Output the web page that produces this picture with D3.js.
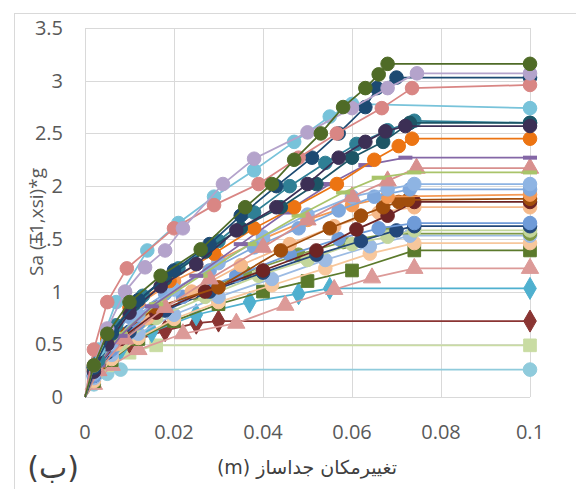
<!DOCTYPE html>
<html>
<head>
<meta charset="utf-8">
<script src="https://d3js.org/d3.v7.min.js"></script>
<style>
  body { margin: 0px; padding: 0px; background: #ffffff; }
  .tick_lab { font-family: "Open Sans", sans-serif; font-size: 20px; fill: #595959; }
</style>
</head>
<body>
<div id="svg_cont"></div>
<script>

// tick values
var x_ticks = [0, 0.02, 0.04, 0.06, 0.08, 0.1];
var y_ticks = [0, 0.5, 1, 1.5, 2, 2.5, 3, 3.5];

// IDA curves, [displacement (m), Sa*g]
var s_lightblue_low = [[0,0],[0.002,0.12],[0.005,0.22],[0.008,0.26],[0.1,0.26]];
var s_lightgreen_sq = [[0,0],[0.002,0.15],[0.005,0.3],[0.01,0.42],[0.016,0.49],[0.1,0.49]];
var s_darkred_dia = [[0,0],[0.002,0.2],[0.005,0.38],[0.01,0.52],[0.018,0.63],[0.025,0.7],[0.03,0.72],[0.1,0.72]];
var s_teal_dia = [[0,0],[0.003,0.25],[0.008,0.45],[0.015,0.62],[0.025,0.78],[0.037,0.9],[0.048,0.98],[0.055,1.03],[0.1,1.03]];
var s_pink_tri_low = [[0,0],[0.002,0.12],[0.006,0.3],[0.012,0.45],[0.022,0.6],[0.034,0.7],[0.045,0.87],[0.056,1.02],[0.0645,1.13],[0.074,1.22],[0.1,1.22]];
var s_green_sq = [[0,0],[0.002,0.15],[0.006,0.35],[0.012,0.55],[0.02,0.72],[0.03,0.88],[0.04,1.0],[0.05,1.1],[0.06,1.2],[0.074,1.39],[0.1,1.39]];
var s_tan = [[0,0],[0.002,0.15],[0.006,0.36],[0.012,0.56],[0.02,0.74],[0.03,0.9],[0.042,1.06],[0.054,1.22],[0.064,1.36],[0.074,1.46],[0.1,1.46]];
var s_skyblue2 = [[0,0],[0.002,0.18],[0.006,0.4],[0.012,0.6],[0.02,0.78],[0.03,0.95],[0.042,1.12],[0.054,1.3],[0.064,1.43],[0.073,1.53],[0.1,1.53]];
var s_olive = [[0,0],[0.003,0.28],[0.008,0.52],[0.015,0.75],[0.025,0.98],[0.036,1.18],[0.048,1.35],[0.058,1.47],[0.068,1.55],[0.1,1.55]];
var s_lightgreen = [[0,0],[0.003,0.25],[0.008,0.5],[0.016,0.75],[0.027,0.95],[0.039,1.15],[0.05,1.3],[0.06,1.45],[0.068,1.52],[0.074,1.58],[0.1,1.58]];
var s_navy = [[0,0],[0.002,0.2],[0.005,0.42],[0.01,0.62],[0.018,0.82],[0.028,1.0],[0.04,1.18],[0.052,1.35],[0.062,1.48],[0.07,1.58],[0.074,1.62],[0.1,1.62]];
var s_blue = [[0,0],[0.002,0.2],[0.006,0.45],[0.012,0.7],[0.022,0.95],[0.034,1.15],[0.046,1.35],[0.057,1.5],[0.066,1.6],[0.074,1.65],[0.1,1.65]];
var s_peach = [[0,0],[0.002,0.25],[0.007,0.5],[0.014,0.75],[0.024,1.0],[0.035,1.25],[0.046,1.45],[0.056,1.62],[0.066,1.75],[0.074,1.8],[0.1,1.8]];
var s_darkred = [[0,0],[0.003,0.3],[0.008,0.55],[0.016,0.8],[0.027,1.0],[0.04,1.2],[0.052,1.39],[0.061,1.59],[0.068,1.72],[0.074,1.85],[0.1,1.85]];
var s_brown = [[0,0],[0.003,0.3],[0.008,0.6],[0.016,0.85],[0.03,1.04],[0.044,1.39],[0.055,1.6],[0.062,1.72],[0.067,1.8],[0.0705,1.85],[0.0726,1.87],[0.1,1.88]];
var s_orange_lt = [[0,0],[0.002,0.3],[0.006,0.6],[0.012,0.88],[0.02,1.1],[0.03,1.3],[0.04,1.5],[0.05,1.68],[0.06,1.82],[0.068,1.9],[0.1,1.92]];
var s_steel = [[0,0],[0.002,0.28],[0.005,0.52],[0.01,0.76],[0.018,0.98],[0.028,1.2],[0.038,1.42],[0.048,1.6],[0.057,1.77],[0.065,1.9],[0.073,1.97],[0.1,1.97]];
var s_skyblue = [[0,0],[0.002,0.22],[0.006,0.5],[0.012,0.78],[0.02,1.02],[0.03,1.27],[0.04,1.52],[0.05,1.73],[0.06,1.9],[0.068,1.97],[0.074,2.02],[0.1,2.02]];
var s_pink_tri_hi = [[0,0],[0.003,0.25],[0.009,0.55],[0.018,0.85],[0.028,1.12],[0.04,1.42],[0.05,1.68],[0.06,1.9],[0.068,2.05],[0.0745,2.17],[0.1,2.17]];
var s_olive_line = [[0,0],[0.003,0.3],[0.008,0.6],[0.016,0.88],[0.026,1.15],[0.037,1.45],[0.048,1.72],[0.058,1.94],[0.066,2.08],[0.074,2.13],[0.1,2.13]];
var s_purple = [[0,0],[0.003,0.3],[0.008,0.58],[0.015,0.86],[0.025,1.15],[0.035,1.45],[0.045,1.75],[0.055,2.02],[0.063,2.2],[0.072,2.27],[0.1,2.27]];
var s_orange = [[0,0],[0.002,0.26],[0.005,0.55],[0.01,0.85],[0.019,1.1],[0.029,1.36],[0.038,1.6],[0.047,1.8],[0.0566,2.02],[0.065,2.25],[0.0705,2.38],[0.0735,2.45],[0.1,2.45]];
var s_teal = [[0,0],[0.003,0.35],[0.007,0.68],[0.013,0.96],[0.021,1.22],[0.03,1.48],[0.038,1.75],[0.046,2.0],[0.054,2.22],[0.061,2.4],[0.068,2.53],[0.074,2.62],[0.1,2.6]];
var s_darkteal = [[0,0],[0.002,0.28],[0.006,0.6],[0.011,0.88],[0.018,1.12],[0.027,1.38],[0.035,1.6],[0.044,1.8],[0.052,2.02],[0.06,2.27],[0.067,2.42],[0.073,2.6],[0.1,2.6]];
var s_navypurple = [[0,0],[0.002,0.24],[0.005,0.5],[0.01,0.8],[0.017,1.05],[0.025,1.26],[0.034,1.58],[0.043,1.8],[0.05,2.02],[0.057,2.27],[0.063,2.42],[0.0675,2.52],[0.072,2.57],[0.1,2.57]];
var s_lightblue = [[0,0],[0.003,0.45],[0.007,0.9],[0.014,1.39],[0.021,1.65],[0.029,1.9],[0.038,2.15],[0.047,2.42],[0.055,2.66],[0.06,2.78],[0.1,2.74]];
var s_darkblue = [[0,0],[0.002,0.28],[0.006,0.62],[0.012,0.92],[0.02,1.2],[0.028,1.45],[0.035,1.72],[0.043,2.0],[0.051,2.27],[0.057,2.5],[0.063,2.75],[0.0656,2.93],[0.07,3.03],[0.1,3.03]];
var s_pink = [[0,0],[0.002,0.45],[0.005,0.9],[0.0094,1.22],[0.02,1.6],[0.029,1.82],[0.039,2.02],[0.048,2.27],[0.0566,2.5],[0.0667,2.74],[0.0735,2.93],[0.1,2.96]];
var s_lavender = [[0,0],[0.002,0.3],[0.005,0.65],[0.009,1.0],[0.0135,1.23],[0.018,1.39],[0.022,1.6],[0.031,2.02],[0.038,2.26],[0.05,2.51],[0.06,2.74],[0.068,2.93],[0.0746,3.07],[0.1,3.07]];
var s_darkgreen = [[0,0],[0.002,0.3],[0.005,0.6],[0.01,0.9],[0.017,1.15],[0.026,1.4],[0.036,1.8],[0.042,2.02],[0.047,2.25],[0.053,2.5],[0.058,2.75],[0.063,2.93],[0.066,3.06],[0.068,3.16],[0.1,3.16]];

// drawing order, colour and marker of each curve
var series_list = [
  {d: s_lightblue_low, c: '#8fcbdc', m: 'circle'},
  {d: s_lightgreen_sq, c: '#c9dca3', m: 'square'},
  {d: s_darkred_dia, c: '#8a3533', m: 'diamond'},
  {d: s_teal_dia, c: '#4fb0cf', m: 'diamond'},
  {d: s_pink_tri_low, c: '#dc9a98', m: 'triangle'},
  {d: s_green_sq, c: '#5b7a2c', m: 'square'},
  {d: s_tan, c: '#f7c79c', m: 'circle'},
  {d: s_skyblue2, c: '#9cbbe3', m: 'circle'},
  {d: s_olive, c: '#7f9a45', m: 'circle'},
  {d: s_lightgreen, c: '#c3d69b', m: 'circle'},
  {d: s_navy, c: '#23487a', m: 'circle'},
  {d: s_blue, c: '#6f9bd8', m: 'circle'},
  {d: s_peach, c: '#f5b98a', m: 'circle'},
  {d: s_darkred, c: '#6e2424', m: 'circle'},
  {d: s_brown, c: '#a14e0c', m: 'circle'},
  {d: s_orange_lt, c: '#f59a55', m: 'circle'},
  {d: s_steel, c: '#7fa8dd', m: 'circle'},
  {d: s_skyblue, c: '#8eb4e3', m: 'circle'},
  {d: s_pink_tri_hi, c: '#d8908e', m: 'triangle'},
  {d: s_olive_line, c: '#a9c46a', m: 'dash'},
  {d: s_purple, c: '#8467a6', m: 'dash'},
  {d: s_orange, c: '#ec7412', m: 'circle'},
  {d: s_teal, c: '#2f7f95', m: 'circle'},
  {d: s_darkteal, c: '#1d5566', m: 'circle'},
  {d: s_navypurple, c: '#3c2f55', m: 'circle'},
  {d: s_lightblue, c: '#78c3da', m: 'circle'},
  {d: s_darkblue, c: '#1c4a72', m: 'circle'},
  {d: s_pink, c: '#d98684', m: 'circle'},
  {d: s_lavender, c: '#b4a3cb', m: 'circle'},
  {d: s_darkgreen, c: '#4f6b27', m: 'circle'}
];

var w = 576, h = 489;
var margin = {left: 85, right: 46, top: 28, bottom: 92};

var svg_main = d3.select('div#svg_cont')
  .append('svg')
  .attr('width', w)
  .attr('height', h);

// chart area frame (cropped on the right and bottom)
svg_main.append('rect')
  .attr('x', 14.5).attr('y', 13.5)
  .attr('width', 700).attr('height', 600)
  .attr('fill', 'none')
  .attr('stroke', '#d9d9d9');

var x = d3.scaleLinear().domain([0, 0.1]).range([margin.left, w - margin.right]);
var y = d3.scaleLinear().domain([0, 3.5]).range([h - margin.bottom, margin.top]);

var grid = svg_main.append('g');
grid.selectAll('line.hg').data(y_ticks).enter().append('line')
  .attr('x1', x(0)).attr('x2', x(0.1))
  .attr('y1', d => Math.round(y(d)) + 0.5).attr('y2', d => Math.round(y(d)) + 0.5)
  .attr('stroke', '#d9d9d9').attr('stroke-width', 1);
grid.selectAll('line.vg').data(x_ticks).enter().append('line')
  .attr('x1', d => Math.round(x(d)) + 0.5).attr('x2', d => Math.round(x(d)) + 0.5)
  .attr('y1', y(0)).attr('y2', y(3.5))
  .attr('stroke', '#d9d9d9').attr('stroke-width', 1);

// tick labels
svg_main.selectAll('text.ylab').data(y_ticks).enter().append('text')
  .attr('class', 'tick_lab')
  .attr('x', 63).attr('y', d => y(d))
  .attr('dy', '0.35em')
  .attr('text-anchor', 'end')
  .text(d => d3.format('')(d));

svg_main.selectAll('text.xlab').data(x_ticks).enter().append('text')
  .attr('class', 'tick_lab')
  .attr('x', d => x(d)).attr('y', 439)
  .attr('text-anchor', 'middle')
  .text(d => d3.format('')(d));

// curves
var line_gen = d3.line().x(d => x(d[0])).y(d => y(d[1]));

var sym = {
  circle: d3.symbol().type(d3.symbolCircle).size(145),
  square: d3.symbol().type(d3.symbolSquare).size(160),
  diamond: d3.symbol().type(d3.symbolDiamond).size(140),
  triangle: d3.symbol().type(d3.symbolTriangle).size(130)
};

var curves = svg_main.append('g');
series_list.forEach(function(s) {
  var g = curves.append('g');
  g.append('path')
    .attr('d', line_gen(s.d))
    .attr('fill', 'none')
    .attr('stroke', s.c)
    .attr('stroke-width', 1.75);

  var pts = g.selectAll('.pt').data(s.d.slice(1)).enter();
  if (s.m === 'dash') {
    pts.append('rect')
      .attr('x', d => x(d[0]) - 7).attr('y', d => y(d[1]) - 2)
      .attr('width', 14).attr('height', 4)
      .attr('fill', s.c);
  } else {
    pts.append('path')
      .attr('d', sym[s.m])
      .attr('transform', d => 'translate(' + x(d[0]) + ',' + y(d[1]) + ')')
      .attr('fill', s.c)
      .attr('stroke', s.c)
      .attr('stroke-width', 1);
  }
});

// axis titles
svg_main.append('text')
  .attr('transform', 'translate(43,' + 222 + ') rotate(-90)')
  .attr('text-anchor', 'middle')
  .style('font-family', '"Open Sans", sans-serif')
  .style('font-size', '19px')
  .style('fill', '#595959')
  .text('Sa (Ŧ1,xsi)*g');

svg_main.append('text')
  .attr('x', 307).attr('y', 474)
  .attr('text-anchor', 'middle')
  .style('direction', 'rtl')
  .style('font-family', '"DejaVu Sans", sans-serif')
  .style('font-size', '19px')
  .style('fill', '#404040')
  .text('تغییرمکان جداساز (m)');

svg_main.append('text')
  .attr('x', 53).attr('y', 478)
  .attr('text-anchor', 'middle')
  .style('font-family', '"DejaVu Sans", sans-serif')
  .style('font-size', '30px')
  .style('fill', '#404040')
  .text('(ب)');

</script>
</body>
</html>
